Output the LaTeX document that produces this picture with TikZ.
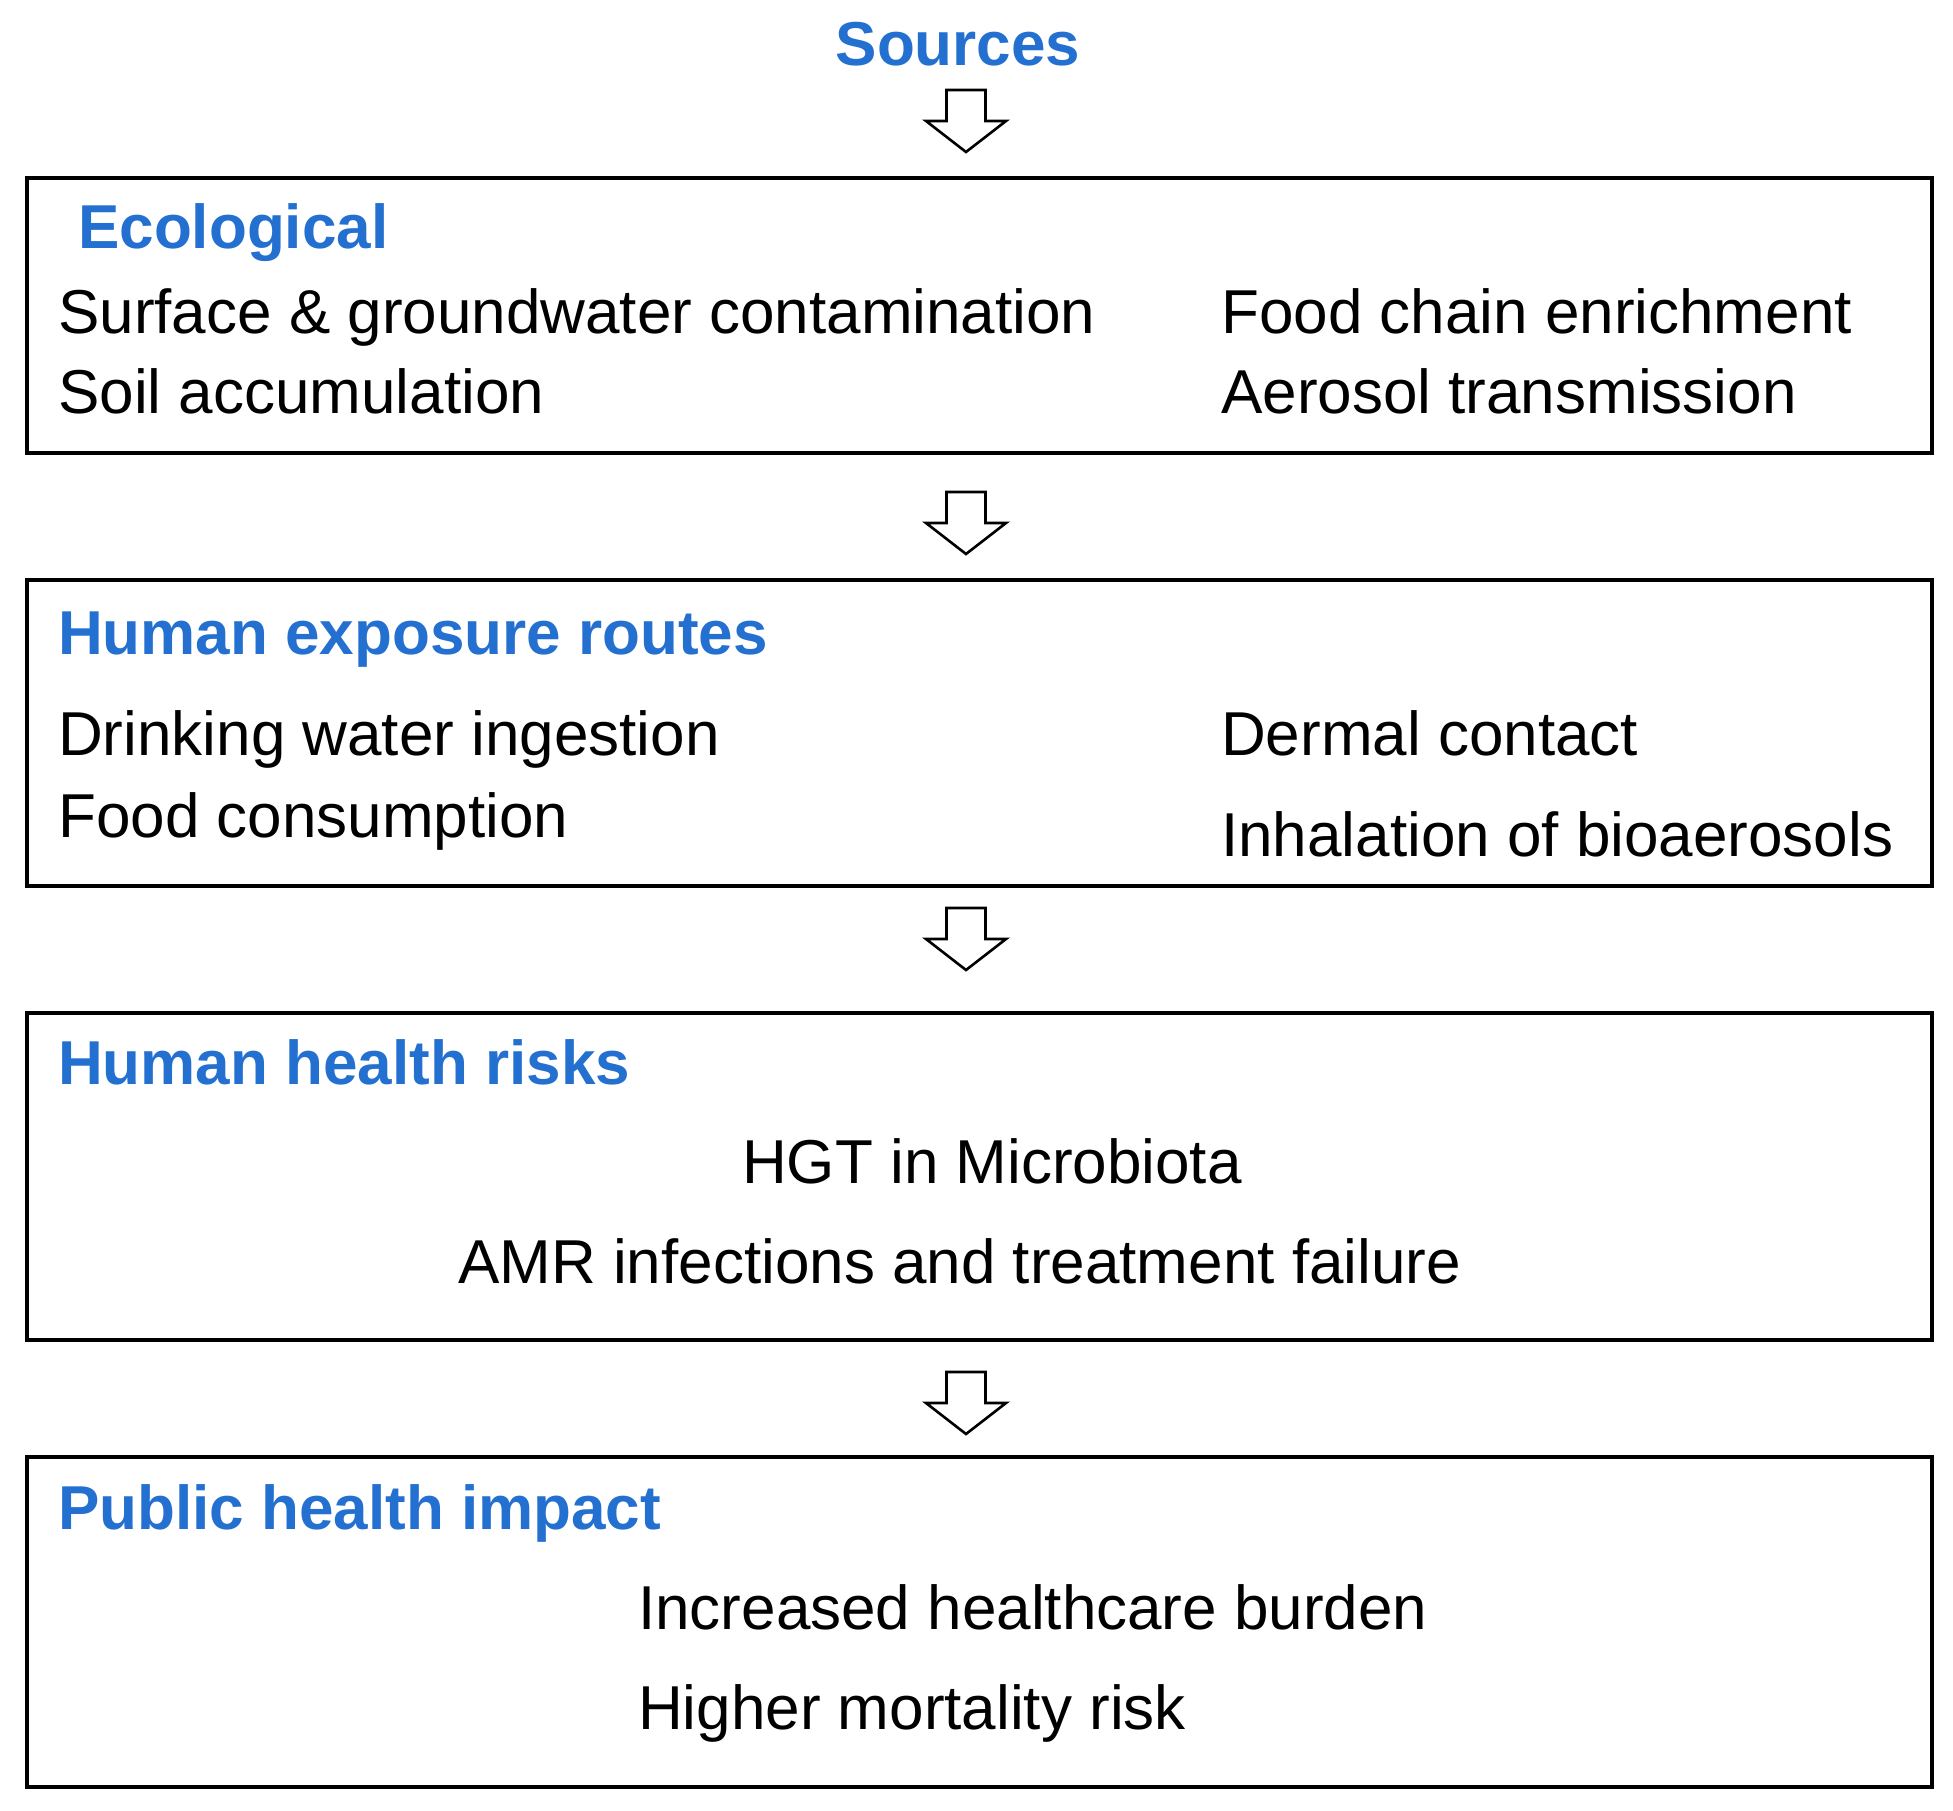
\documentclass[tikz,border=0pt]{standalone}
\usepackage{fontspec}
\setmainfont{Liberation Sans}
\definecolor{titleblue}{RGB}{36,112,208}
\begin{document}
\begin{tikzpicture}[x=1pt,y=-1pt,
  box/.style={draw=black,line width=3.5pt,inner sep=0pt,outer sep=0pt,minimum width=1905pt},
  title/.style={anchor=base west,inner sep=0pt,text=titleblue,font=\fontsize{62}{74}\selectfont\bfseries},
  item/.style={anchor=base west,inner sep=0pt,text=black,font=\fontsize{62}{74}\selectfont},
  flowarrow/.pic={\draw[line width=2.6pt,fill=white,line join=miter]
     (-19.5,0) -- (19.5,0) -- (19.5,31) -- (40,31) -- (0,62) -- (-40,31) -- (-19.5,31) -- cycle;}
]
\useasboundingbox[fill=white] (0,0) rectangle (1953,1811);

% boxes
\node[box,minimum height=275pt] (b1) at (979.5,315.5) {};
\node[box,minimum height=306pt] (b2) at (979.5,733) {};
\node[box,minimum height=327pt] (b3) at (979.5,1176.5) {};
\node[box,minimum height=330pt] (b4) at (979.5,1622) {};

% sources
\node[anchor=base,inner sep=0pt,text=titleblue,font=\fontsize{62}{74}\selectfont\bfseries] (src) at (958,66) {Sources};

% arrows
\coordinate (a1) at (966,90);
\coordinate (a2) at (966,492);
\coordinate (a3) at (966,908);
\coordinate (a4) at (966,1372);
\pic at (a1) {flowarrow};
\pic at (a2) {flowarrow};
\pic at (a3) {flowarrow};
\pic at (a4) {flowarrow};

% box 1
\node[title] (t1) at (78,249) {Ecological};
\node[item] (e1) at (58,333) {Surface \& groundwater contamination};
\node[item] (e2) at (58,413) {Soil accumulation};
\node[item] (e3) at (1221,333) {Food chain enrichment};
\node[item] (e4) at (1221,413) {Aerosol transmission};

% box 2
\node[title] (t2) at (58,654) {Human exposure routes};
\node[item] (h1) at (58,755) {Drinking water ingestion};
\node[item] (h2) at (58,837) {Food consumption};
\node[item] (h3) at (1221,755) {Dermal contact};
\node[item] (h4) at (1221,856) {Inhalation of bioaerosols};

% box 3
\node[title] (t3) at (58,1084) {Human health risks};
\node[item] (r1) at (742,1183) {HGT in Microbiota};
\node[item] (r2) at (458,1283) {AMR infections and treatment failure};

% box 4
\node[title] (t4) at (58,1529) {Public health impact};
\node[item] (p1) at (638,1629) {Increased healthcare burden};
\node[item] (p2) at (638,1729) {Higher mortality risk};
\end{tikzpicture}
\end{document}
